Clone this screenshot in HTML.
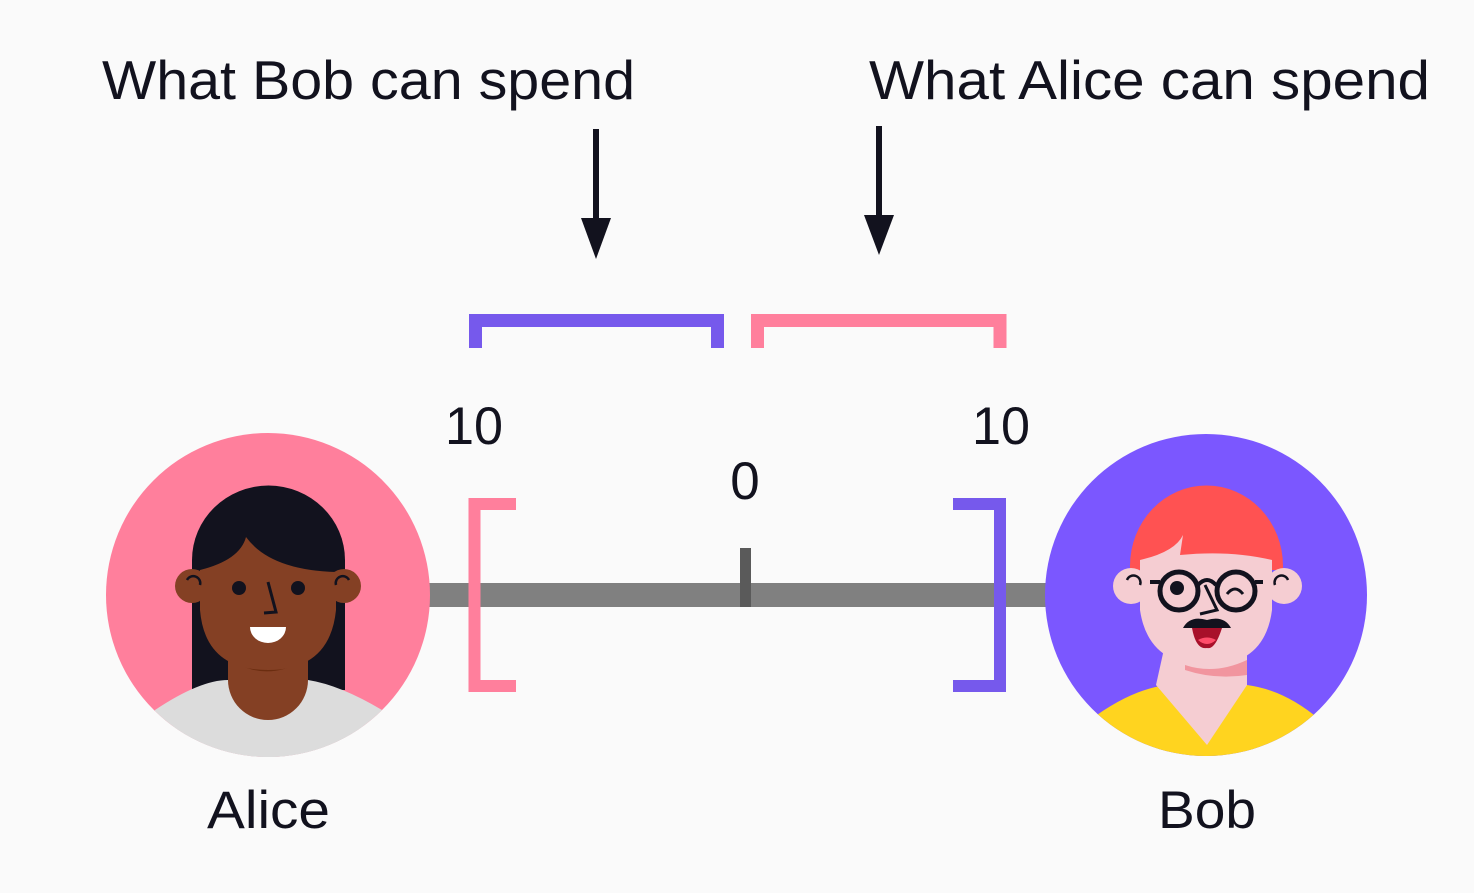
<!DOCTYPE html>
<html><head><meta charset="utf-8"><style>
html,body{margin:0;padding:0;background:#fafafa;}
svg{display:block;}
text{font-family:"Liberation Sans",sans-serif;fill:#12121e;}
</style></head><body>
<svg width="1474" height="893" viewBox="0 0 1474 893" xmlns="http://www.w3.org/2000/svg">
<rect width="1474" height="893" fill="#fafafa"/>
<text x="102" y="99" font-size="55" textLength="533" lengthAdjust="spacingAndGlyphs">What Bob can spend</text>
<text x="869" y="99" font-size="55" textLength="561" lengthAdjust="spacingAndGlyphs">What Alice can spend</text>
<rect x="593" y="129" width="6" height="92" fill="#12121e"/>
<polygon points="581,218 611,218 596,259" fill="#12121e"/>
<rect x="876" y="126" width="6" height="92" fill="#12121e"/>
<polygon points="864,215 894,215 879,255" fill="#12121e"/>
<path d="M475.5,348 V320.5 H717.5 V348" fill="none" stroke="#7659ec" stroke-width="13"/>
<path d="M757.5,348 V320.5 H1000 V348" fill="none" stroke="#ff7f9c" stroke-width="13"/>
<text x="445" y="444" font-size="53" textLength="58" lengthAdjust="spacingAndGlyphs">10</text>
<text x="972" y="444" font-size="53" textLength="58" lengthAdjust="spacingAndGlyphs">10</text>
<text x="745" y="499" font-size="53" text-anchor="middle">0</text>
<rect x="428" y="583" width="620" height="24" fill="#808080"/>
<rect x="740" y="548" width="11" height="59" fill="#5a5a5a"/>
<path d="M516,504 H474.5 V686 H516" fill="none" stroke="#ff7f9c" stroke-width="12"/>
<path d="M953,504 H1000 V686 H953" fill="none" stroke="#7659ec" stroke-width="12"/>
<defs>
<clipPath id="ca"><circle cx="268" cy="595" r="162"/></clipPath>
<clipPath id="cb"><circle cx="1206" cy="595" r="161"/></clipPath>
</defs>
<circle cx="268" cy="595" r="162" fill="#ff7f9c"/>
<g clip-path="url(#ca)">
<path d="M192,690 V560 A76,74 0 0 1 345,560 V690 Z" fill="#12121e"/>
<ellipse cx="268" cy="760" rx="120" ry="55" fill="#dcdcdc"/>
<path d="M155,710 Q200,680 228,680 L308,680 Q340,685 382,710 L400,760 L140,760 Z" fill="#dcdcdc"/>
<path d="M228,630 H308 V680 A40,40 0 0 1 228,680 Z" fill="#844024"/>
<path d="M240,665 Q270,680 305,660 L305,640 L240,640 Z" fill="#6b2d10"/>
<circle cx="192" cy="586" r="17" fill="#844024"/>
<circle cx="344" cy="586" r="17" fill="#844024"/>
<path d="M200,570 Q240,560 246,537 Q270,570 336,572 L336,610 Q330,670 268,670 Q205,670 200,610 Z" fill="#844024"/>
<circle cx="239" cy="588" r="7" fill="#12121e"/>
<circle cx="298" cy="588" r="7" fill="#12121e"/>
<path d="M268,582 L276,612 L264,613" fill="none" stroke="#12121e" stroke-width="3"/>
<path d="M250,627 H286 A18,16 0 0 1 250,627 Z" fill="#fff"/>
<path d="M187,580 A7,7 0 0 1 200,585" fill="none" stroke="#12121e" stroke-width="2.5"/>
<path d="M349,580 A7,7 0 0 0 336,585" fill="none" stroke="#12121e" stroke-width="2.5"/>
</g>
<circle cx="1206" cy="595" r="161" fill="#7b57ff"/>
<g clip-path="url(#cb)">
<path d="M1090,720 Q1130,690 1166,685 H1247 Q1285,690 1320,720 L1330,770 L1080,770 Z" fill="#ffd41f"/>
<path d="M1166,640 H1247 V685 L1207,745 L1156,685 Z" fill="#f5cdd2"/>
<path d="M1185,665 Q1215,675 1247,660 V675 Q1215,680 1185,670 Z" fill="#f1959f"/>
<path d="M1130,566 A76,80 0 0 1 1283,566 L1283,570 L1130,570 Z" fill="#ff5252"/>
<circle cx="1131" cy="586" r="18" fill="#f5cdd2"/>
<circle cx="1284" cy="586" r="18" fill="#f5cdd2"/>
<path d="M1140,560 Q1175,552 1183,535 L1180,555 Q1230,550 1272,560 V610 Q1265,665 1207,666 Q1148,665 1140,610 Z" fill="#f5cdd2"/>
<circle cx="1179" cy="591" r="19" fill="none" stroke="#12121e" stroke-width="5"/>
<circle cx="1236" cy="591" r="19" fill="none" stroke="#12121e" stroke-width="5"/>
<path d="M1150,582 H1160 M1255,582 H1263 M1198,585 Q1207,575 1216,585" fill="none" stroke="#12121e" stroke-width="4"/>
<circle cx="1177" cy="588" r="7" fill="#12121e"/>
<path d="M1227,594 Q1235,584 1243,594" fill="none" stroke="#12121e" stroke-width="3"/>
<path d="M1205,585 L1217,610 L1200,614" fill="none" stroke="#12121e" stroke-width="3"/>
<path d="M1192,628 Q1207,628 1222,628 Q1215,650 1207,648 Q1196,650 1192,628 Z" fill="#a8102a"/>
<path d="M1198,640 Q1207,635 1216,640 Q1207,648 1198,640 Z" fill="#ff4d6a"/>
<path d="M1183,628 Q1190,615 1207,620 Q1224,615 1231,628 Z" fill="#12121e"/>
<path d="M1127,580 A6,6 0 0 1 1140,585" fill="none" stroke="#12121e" stroke-width="2.5"/>
<path d="M1288,580 A6,6 0 0 0 1275,585" fill="none" stroke="#12121e" stroke-width="2.5"/>
</g>
<text x="207" y="828" font-size="53" textLength="123" lengthAdjust="spacingAndGlyphs">Alice</text>
<text x="1158" y="828" font-size="53" textLength="98" lengthAdjust="spacingAndGlyphs">Bob</text>
</svg>
</body></html>
